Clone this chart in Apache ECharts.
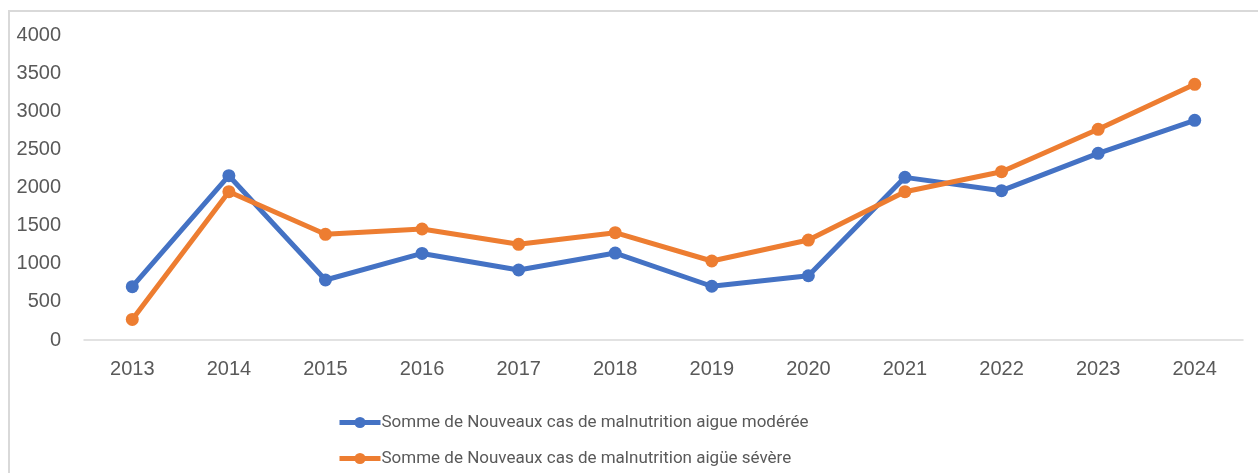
<!DOCTYPE html>
<html>
<head>
<meta charset="utf-8">
<script src="https://cdn.jsdelivr.net/npm/echarts@6/dist/echarts.min.js"></script>
<style>
  html,body{margin:0;padding:0;background:#fff;overflow:hidden;}
  #frame{position:absolute;left:8px;top:10px;width:1300px;height:500px;border:2px solid #d9d9d9;box-sizing:border-box;}
  #chart{position:absolute;left:0;top:0;width:1258px;height:473px;}
</style>
</head>
<body>
<div id="frame"></div>
<div id="chart"></div>
<script>
  var years = ['2013','2014','2015','2016','2017','2018','2019','2020','2021','2022','2023','2024']
  var moderee = [700, 2155, 787, 1135, 918, 1140, 705, 843, 2133, 1958, 2448, 2881]
  var severe = [270, 1945, 1386, 1456, 1255, 1407, 1036, 1311, 1945, 2207, 2763, 3353]
  var names = ['Somme de Nouveaux cas de malnutrition aigue modérée', 'Somme de Nouveaux cas de malnutrition aigüe sévère']

  var chart = echarts.init(document.getElementById('chart'))
  var font = '"Liberation Sans", "DejaVu Sans", sans-serif'
  var legendFont = 'Roboto, "Liberation Sans", sans-serif'

  var legendBase = function (name, top) {
    return {
      orient: 'vertical',
      left: 337,
      top: top,
      padding: 0,
      itemWidth: 41,
      itemHeight: 14,
      lineStyle: {width: 5},
      textStyle: {
        color: '#595959',
        fontSize: 17,
        fontFamily: legendFont,
        padding: [0, 0, 0, -4]
      },
      data: [name]
    }
  }

  var option = {
    animation: false,
    grid: {
      left: 84,
      right: 15,
      top: 35,
      bottom: 133
    },
    legend: [legendBase(names[0], 414), legendBase(names[1], 450)],
    xAxis: {
      type: 'category',
      data: years,
      boundaryGap: true,
      axisLine: {lineStyle: {color: '#d9d9d9', width: 1.5}},
      axisTick: {show: false},
      axisLabel: {
        color: '#595959',
        fontSize: 20,
        fontFamily: font,
        margin: 19
      },
      splitLine: {show: false}
    },
    yAxis: {
      type: 'value',
      min: 0,
      max: 4000,
      interval: 500,
      axisLine: {show: false},
      axisTick: {show: false},
      axisLabel: {
        color: '#595959',
        fontSize: 20,
        fontFamily: font,
        margin: 23,
        formatter: function (v) { return String(v) }
      },
      splitLine: {show: false}
    },
    series: [
      {
        name: names[0],
        type: 'line',
        data: moderee,
        symbol: 'circle',
        symbolSize: 13,
        color: '#4472C4',
        lineStyle: {width: 5, color: '#4472C4'},
        itemStyle: {color: '#4472C4'}
      },
      {
        name: names[1],
        type: 'line',
        data: severe,
        symbol: 'circle',
        symbolSize: 13,
        color: '#ED7D31',
        lineStyle: {width: 5, color: '#ED7D31'},
        itemStyle: {color: '#ED7D31'}
      }
    ]
  }

  chart.setOption(option)
</script>
</body>
</html>
